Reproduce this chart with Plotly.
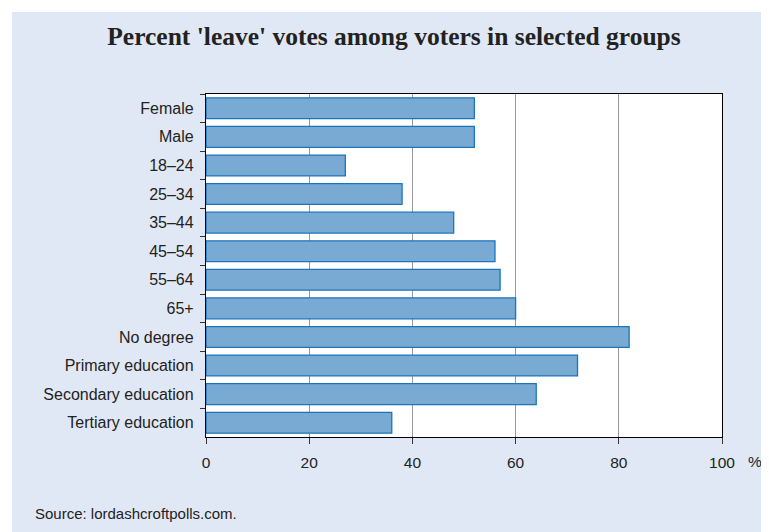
import plotly.graph_objects as go

categories = ["Female", "Male", "18–24", "25–34", "35–44", "45–54", "55–64", "65+",
              "No degree", "Primary education", "Secondary education", "Tertiary education"]
leave_pct = [52, 52, 27, 38, 48, 56, 57, 60, 82, 72, 64, 36]
x_ticks = [0, 20, 40, 60, 80, 100]

# page is rendered with an 8px body margin; figure coords = page coords - 8
OFF = 8
W, H = 769 - OFF, 532 - OFF
L, R, T, B = 206 - OFF, 722 - OFF, 94 - OFF, 437 - OFF
pw, ph = R - L, B - T

def px(x):
    return (x - OFF - L) / pw

def py(y):
    return (B - (y - OFF)) / ph

fig = go.Figure(go.Bar(
    y=categories, x=leave_pct, orientation="h",
    marker=dict(color="#79aad4", line=dict(color="#1a75bb", width=1.3)),
    width=0.73,
))

bg = "#e1e8f5"
fig.update_layout(
    width=W, height=H,
    margin=dict(l=L, r=W - R, t=T, b=H - B),
    paper_bgcolor=bg, plot_bgcolor="white",
    showlegend=False,
    title=dict(text="<b>Percent 'leave' votes among voters in selected groups</b>",
               x=(394 - OFF) / W, xanchor="center",
               y=1 - (36 - OFF) / H, yanchor="middle",
               font=dict(family="Liberation Serif", size=25.5, color="#222")),
    xaxis=dict(range=[0, 100], tickvals=x_ticks, ticks="outside", ticklen=6,
               tickcolor="#333", showline=True, linecolor="black", linewidth=1.3,
               mirror=True, showgrid=True, gridcolor="#999", gridwidth=1,
               zeroline=False, ticklabelstandoff=5,
               tickfont=dict(family="Liberation Sans", size=15.5, color="#222")),
    yaxis=dict(autorange="reversed", tickson="boundaries", ticks="outside", ticklen=5,
               tickcolor="#333", showline=True, linecolor="black", linewidth=1.3,
               mirror=True, showgrid=False, ticklabelstandoff=8,
               tickfont=dict(family="Liberation Sans", size=16, color="#222")),
    shapes=[
        dict(type="rect", xref="paper", yref="paper", x0=px(0), x1=px(12), y0=py(540), y1=py(0),
             fillcolor="white", line=dict(width=0), layer="below"),
        dict(type="rect", xref="paper", yref="paper", x0=px(0), x1=px(780), y0=py(12), y1=py(0),
             fillcolor="white", line=dict(width=0), layer="below"),
    ],
    annotations=[
        dict(text="%", xref="paper", yref="paper", x=px(746), y=py(461), xanchor="left",
             yanchor="middle", showarrow=False,
             font=dict(family="Liberation Sans", size=15.5, color="#222")),
        dict(text="Source: lordashcroftpolls.com.", xref="paper", yref="paper",
             x=px(33), y=py(513), xanchor="left", yanchor="middle", showarrow=False,
             font=dict(family="Liberation Sans", size=15, color="#222")),
    ],
)

fig.write_html("out.html")
